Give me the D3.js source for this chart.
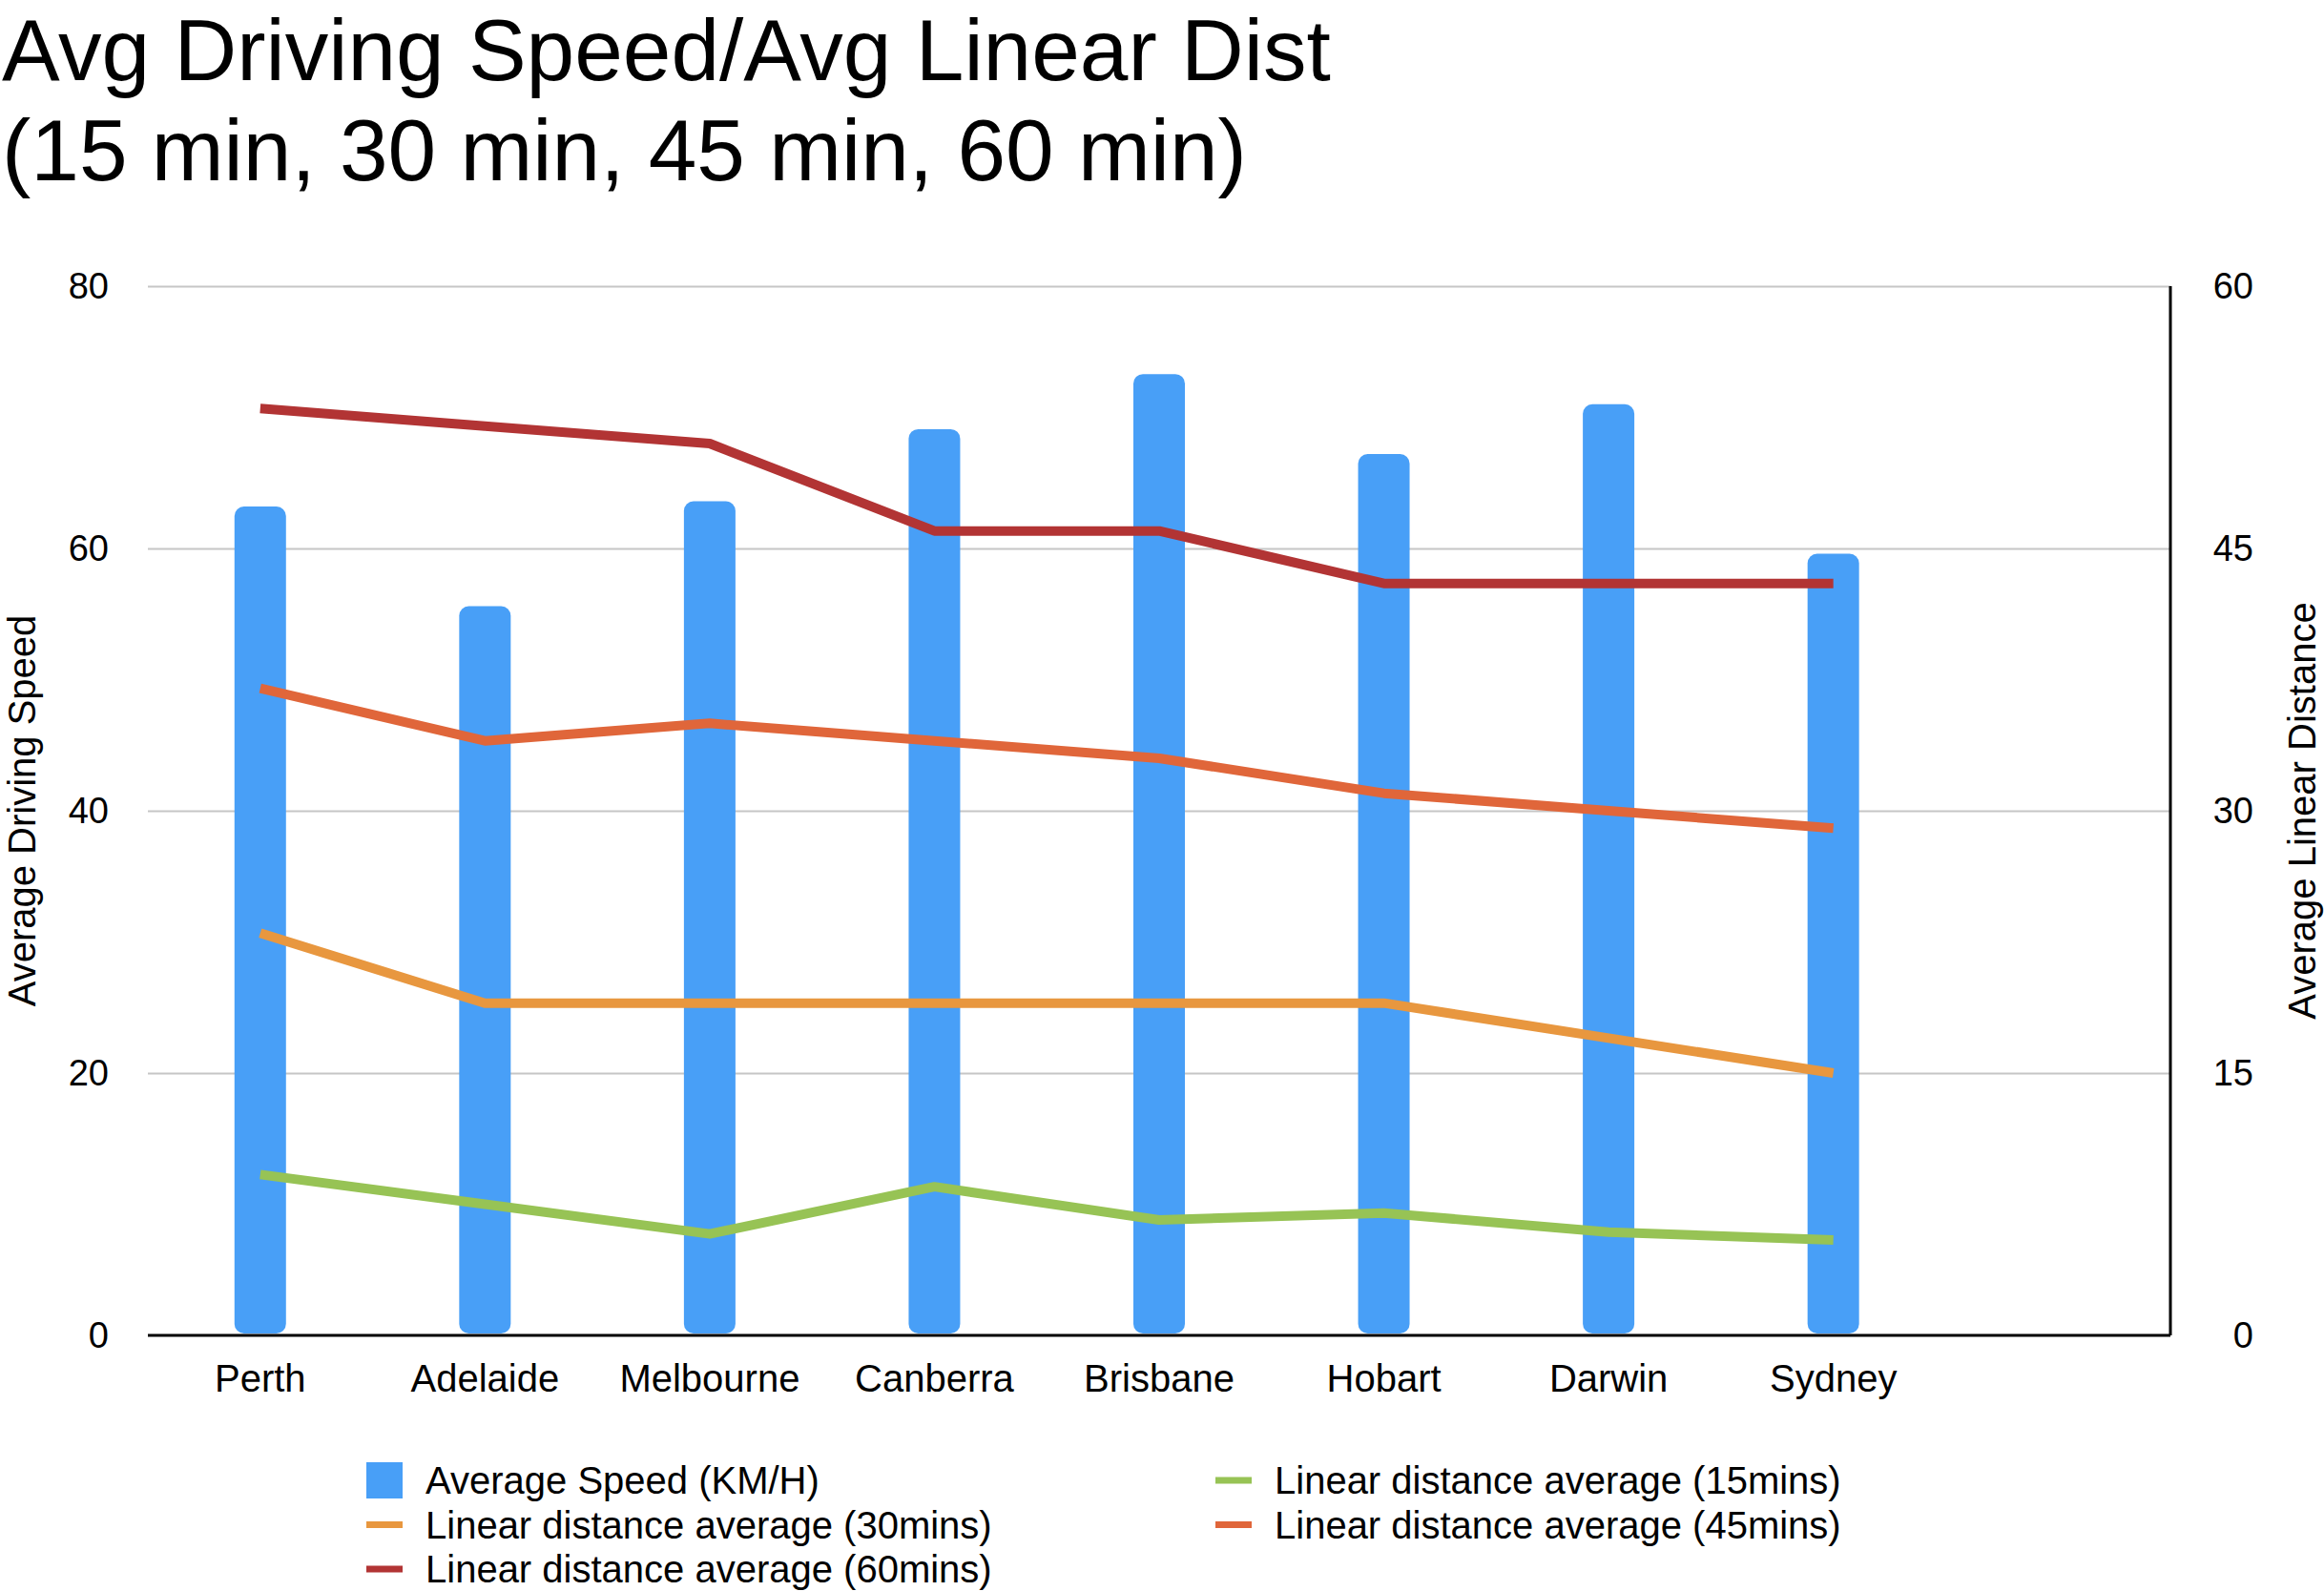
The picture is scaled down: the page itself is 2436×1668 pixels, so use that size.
<!DOCTYPE html>
<html>
<head>
<meta charset="utf-8">
<script src="https://cdn.jsdelivr.net/npm/d3@7/dist/d3.min.js"></script>
<style>
  html, body { margin: 0; padding: 0; background: #fff; }
  svg { display: block; font-family: "Liberation Sans", Arial, sans-serif; }
</style>
</head>
<body>
<div id="chart"></div>
<script>
var categories = ['Perth', 'Adelaide', 'Melbourne', 'Canberra', 'Brisbane', 'Hobart', 'Darwin', 'Sydney'];
var avgSpeed = [63.2, 55.6, 63.6, 69.1, 73.3, 67.2, 71.0, 59.6];
var dist15 = [9.2, 7.5, 5.8, 8.5, 6.6, 7.0, 5.9, 5.45];
var dist30 = [23, 19, 19, 19, 19, 19, 17, 15];
var dist45 = [37, 34, 35, 34, 33, 31, 30, 29];
var dist60 = [53, 52, 51, 46, 46, 43, 43, 43];
var leftTicks = [0, 20, 40, 60, 80];
var rightTicks = [0, 15, 30, 45, 60];

var titleLines = ['Avg Driving Speed/Avg Linear Dist', '(15 min, 30 min, 45 min, 60 min)'];

var series = [
    { name: 'Linear distance average (15mins)', values: dist15, color: '#97c355' },
    { name: 'Linear distance average (30mins)', values: dist30, color: '#e8973f' },
    { name: 'Linear distance average (45mins)', values: dist45, color: '#e0663a' },
    { name: 'Linear distance average (60mins)', values: dist60, color: '#b23434' }
];
var barColor = '#489ff7';

// legend is listed row by row, two columns
var legendItems = [
    { name: 'Average Speed (KM/H)', color: barColor, type: 'bar', col: 0, row: 0 },
    { name: series[0].name, color: series[0].color, type: 'line', col: 1, row: 0 },
    { name: series[1].name, color: series[1].color, type: 'line', col: 0, row: 1 },
    { name: series[2].name, color: series[2].color, type: 'line', col: 1, row: 1 },
    { name: series[3].name, color: series[3].color, type: 'line', col: 0, row: 2 }
];

var W = 2436, H = 1668;
var margin = { top: 300, right: 161, bottom: 268, left: 155 };
var plotW = W - margin.left - margin.right;
var plotH = H - margin.top - margin.bottom;
var step = plotW / 9;   // one empty slot after Sydney

var svg = d3.select('#chart').append('svg')
    .attr('width', W).attr('height', H);

// title
svg.append('g').selectAll('text').data(titleLines).enter().append('text')
    .attr('x', 2)
    .attr('y', function (d, i) { return 84 + i * 105; })
    .attr('font-size', 91)
    .attr('fill', '#000')
    .text(function (d) { return d; });

var x = d3.scaleBand().domain(categories).range([0, step * categories.length]);
var yL = d3.scaleLinear().domain([0, 80]).range([plotH, 0]);
var yR = d3.scaleLinear().domain([0, 60]).range([plotH, 0]);

var g = svg.append('g').attr('transform', 'translate(' + margin.left + ',' + margin.top + ')');

// gridlines
var grid = g.append('g').attr('class', 'grid')
    .call(d3.axisLeft(yL).tickValues(leftTicks.slice(1)).tickSize(-plotW).tickFormat(''));
grid.select('.domain').remove();
grid.selectAll('line').attr('stroke', '#c6c6c6').attr('stroke-width', 2);

// bars
var barW = 54;
g.append('g').selectAll('rect').data(avgSpeed).enter().append('rect')
    .attr('x', function (d, i) { return x(categories[i]) + x.bandwidth() / 2 - barW / 2; })
    .attr('y', function (d) { return yL(d); })
    .attr('width', barW)
    .attr('height', function (d) { return yL(0) - yL(d) - 2; })
    .attr('rx', 10).attr('ry', 10)
    .attr('fill', barColor);

// lines
var line = d3.line()
    .x(function (d, i) { return x(categories[i]) + x.bandwidth() / 2; })
    .y(function (d) { return yR(d); });

g.append('g').selectAll('path').data(series).enter().append('path')
    .attr('d', function (s) { return line(s.values); })
    .attr('fill', 'none')
    .attr('stroke', function (s) { return s.color; })
    .attr('stroke-width', 10)
    .attr('stroke-linejoin', 'round')
    .attr('stroke-linecap', 'butt');

// bottom axis
var xAxis = g.append('g').attr('transform', 'translate(0,' + plotH + ')')
    .call(d3.axisBottom(x).tickSize(0).tickPadding(31));
xAxis.select('.domain').remove();
xAxis.append('line').attr('x1', 0).attr('x2', plotW).attr('stroke', '#000').attr('stroke-width', 3);
xAxis.selectAll('text').attr('font-size', 40).attr('fill', '#000').attr('font-family', null)
    .attr('dy', '0.71em');

// left axis
var leftAxis = g.append('g')
    .call(d3.axisLeft(yL).tickValues(leftTicks).tickSize(0).tickPadding(41));
leftAxis.select('.domain').remove();
leftAxis.selectAll('text').attr('font-size', 38).attr('fill', '#000').attr('font-family', null);

// right axis
var rightAxis = g.append('g').attr('transform', 'translate(' + plotW + ',0)')
    .call(d3.axisRight(yR).tickValues(rightTicks).tickSize(0).tickPadding(0));
rightAxis.select('.domain').remove();
rightAxis.append('line').attr('y1', 0).attr('y2', plotH).attr('stroke', '#000').attr('stroke-width', 3);
rightAxis.selectAll('text').attr('font-size', 38).attr('fill', '#000').attr('font-family', null)
    .attr('text-anchor', 'end').attr('x', 87);

// axis titles
svg.append('text')
    .attr('transform', 'translate(37,' + (margin.top + plotH / 2) + ') rotate(-90)')
    .attr('text-anchor', 'middle')
    .attr('font-size', 40)
    .text('Average Driving Speed');
svg.append('text')
    .attr('transform', 'translate(2427,' + (margin.top + plotH / 2) + ') rotate(-90)')
    .attr('text-anchor', 'middle')
    .attr('font-size', 40)
    .text('Average Linear Distance');

// legend
var legend = svg.append('g').attr('transform', 'translate(384,1552)');
var items = legend.selectAll('g').data(legendItems).enter().append('g')
    .attr('transform', function (d) { return 'translate(' + (d.col * 890) + ',' + (d.row * 46.5) + ')'; });
items.append('rect')
    .attr('x', 0)
    .attr('y', function (d) { return d.type === 'bar' ? -19 : -3.5; })
    .attr('width', 38)
    .attr('height', function (d) { return d.type === 'bar' ? 38 : 7; })
    .attr('fill', function (d) { return d.color; });
items.append('text')
    .attr('x', 62)
    .attr('y', 14)
    .attr('font-size', 40)
    .attr('fill', '#000')
    .text(function (d) { return d.name; });
</script>
</body>
</html>
